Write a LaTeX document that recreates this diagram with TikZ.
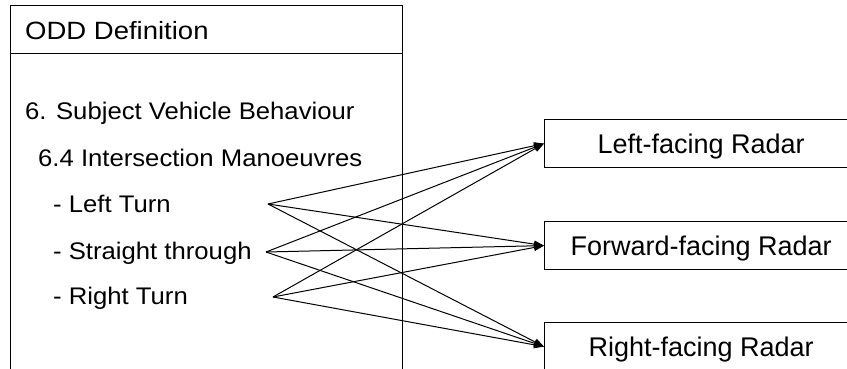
\documentclass[tikz,border=0pt]{standalone}
\usepackage{fontspec}
\setmainfont{Liberation Sans}
\usetikzlibrary{arrows.meta}
% slightly widened text for the definition panel
\newcommand{\widetext}[2][1.07]{\scalebox{#1}[1]{#2}}
\begin{document}
\begin{tikzpicture}[x=1pt,y=-1pt,
  frame/.style={draw=black,line width=1.2pt},
  panel/.style={frame,anchor=north west,minimum width=392pt,inner sep=0pt},
  item/.style={anchor=base west,inner sep=0pt,font=\fontsize{24}{29}\selectfont},
  radar/.style={frame,anchor=north west,minimum width=313pt,minimum height=48pt,
    inner sep=0pt,text height=19.4pt,text depth=0pt,font=\fontsize{27}{32}\selectfont},
  link/.style={line width=1pt,-{Triangle[length=10pt,width=7pt]}}]
\useasboundingbox (0,0) rectangle (847,369);
\begin{scope}
\clip (0,0) rectangle (847,369);
% definition panel with its header strip
\node[panel,minimum height=400pt] (odd) at (10,5) {};
\node[panel,minimum height=48pt] (oddhead) at (10,5) {};
\node[item,font=\fontsize{25}{30}\selectfont] (title) at (25,39.5) {\widetext[1.1]{ODD Definition}};
\node[item] (sec6) at (25,120) {\widetext{6. Subject Vehicle Behaviour}};
\node[item] (sec64) at (38,166) {\widetext{6.4 Intersection Manoeuvres}};
\node[item] (left) at (53,212) {\widetext{- Left Turn}};
\node[item] (straight) at (53,259) {\widetext{- Straight through}};
\node[item] (right) at (53,304) {\widetext{- Right Turn}};
% sensors
\node[radar] (lr) at (544,119) {Left-facing Radar};
\node[radar] (fr) at (544,221) {Forward-facing Radar};
\node[radar] (rr) at (544,322) {Right-facing Radar};
% start points of the mappings
\coordinate (lt) at (268,204);
\coordinate (st) at (266,252);
\coordinate (rt) at (273,297);
\foreach \s in {lt,st,rt}{
  \foreach \t in {lr,fr,rr}{
    \draw[link] (\s) -- (\t.west);
  }
}
\end{scope}
\end{tikzpicture}
\end{document}
